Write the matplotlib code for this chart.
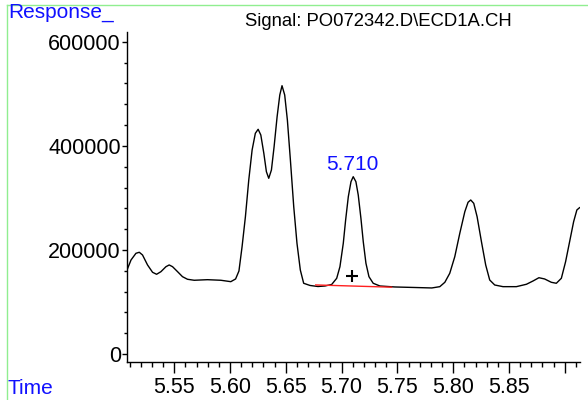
import matplotlib
matplotlib.use("Agg")
import matplotlib.pyplot as plt
from matplotlib.lines import Line2D
from matplotlib.ticker import MultipleLocator, FixedLocator

plt.rcParams['font.family'] = ['Liberation Sans', 'DejaVu Sans']

# trace (time in min, response)
time = [5.5077, 5.5113, 5.5157, 5.5187, 5.5216, 5.5261, 5.5306, 5.5342,
        5.5381, 5.5426, 5.5455, 5.5485, 5.5530, 5.5574, 5.5619, 5.5679,
        5.5798, 5.5918, 5.6007, 5.6050, 5.6080, 5.6108, 5.6138, 5.6168,
        5.6198, 5.6227, 5.6252, 5.6276, 5.6303, 5.6326, 5.6347, 5.6371,
        5.6395, 5.6422, 5.6446, 5.6466, 5.6490, 5.6514, 5.6541, 5.6571,
        5.6600, 5.6630, 5.6660, 5.6717, 5.6788, 5.6851, 5.6911, 5.6956,
        5.6985, 5.7015, 5.7036, 5.7060, 5.7084, 5.7104, 5.7128, 5.7149,
        5.7173, 5.7194, 5.7218, 5.7245, 5.7283, 5.7343, 5.7477, 5.7656,
        5.7808, 5.7880, 5.7925, 5.7969, 5.8014, 5.8059, 5.8104, 5.8133,
        5.8157, 5.8184, 5.8214, 5.8253, 5.8291, 5.8327, 5.8372, 5.8446,
        5.8566, 5.8656, 5.8715, 5.8768, 5.8819, 5.8879, 5.8924, 5.8969,
        5.9007, 5.9043, 5.9079, 5.9108, 5.9132]
response = [161400, 180700, 193500, 195500, 190300, 171100, 157000, 153200,
            158200, 167800, 171100, 167800, 158200, 148600, 143600, 141700,
            142800, 141700, 139000, 144200, 159500, 206200, 263900, 334400,
            392100, 424200, 431900, 420900, 385700, 350400, 337700, 353600,
            398400, 456100, 497800, 515700, 497800, 449700, 372900, 283100,
            212800, 161400, 135900, 131700, 129700, 130700, 133600, 145500,
            167800, 212800, 257500, 302300, 331200, 340800, 331200, 305600,
            260800, 215800, 174300, 148600, 135900, 130700, 128800, 127800,
            126900, 129400, 137800, 155100, 187000, 232000, 273500, 291600,
            296000, 289600, 263900, 215800, 171100, 142200, 132600, 129400,
            129400, 134000, 140300, 146600, 144200, 137800, 135900, 145500,
            177400, 215800, 254300, 276800, 281200]

# integration baseline of the labelled peak
base_time = [5.6768, 5.7448]
base_resp = [132700, 128400]
peak_rt = 5.710
peak_label = "5.710"
peak_label_y = 346000
marker_pt = (5.709, 150000)

x_ticks = [5.55, 5.60, 5.65, 5.70, 5.75, 5.80, 5.85, 5.90]
x_labels = ["5.55", "5.60", "5.65", "5.70", "5.75", "5.80", "5.85", ""]
y_ticks = [0, 200000, 400000, 600000]

fig = plt.figure(figsize=(5.88, 4.0), dpi=100)
ax = fig.add_axes([0.216, 0.0958, 0.770, 0.8242])

ax.plot(time, response, color='black', lw=1.0)
ax.plot(base_time, base_resp, color='#ff2020', lw=1.0)
ax.plot([marker_pt[0]], [marker_pt[1]], marker='+', color='black',
        markersize=8, markeredgewidth=1.5)
ax.text(peak_rt, peak_label_y, peak_label, color='#1010ff', fontsize=15,
        ha='center', va='bottom')

ax.set_xlim(5.5077, 5.9134)
ax.set_ylim(-14800, 618900)

ax.xaxis.set_major_locator(FixedLocator(x_ticks))
ax.set_xticklabels(x_labels)
ax.xaxis.set_minor_locator(MultipleLocator(0.01))
ax.set_yticks(y_ticks)
ax.set_yticklabels([str(v) for v in y_ticks])
ax.yaxis.set_minor_locator(MultipleLocator(40000))

ax.tick_params(axis='x', which='major', length=8, width=1, labelsize=15.5, pad=3)
ax.tick_params(axis='x', which='minor', length=3.5, width=1)
ax.tick_params(axis='y', which='major', length=3.5, width=1, labelsize=15.5, pad=1)
ax.tick_params(axis='y', which='minor', length=2.5, width=1)

for s in ['top', 'right']:
    ax.spines[s].set_visible(False)
for s in ['left', 'bottom']:
    ax.spines[s].set_linewidth(1.0)

fig.text(378 / 588, 1 - 22 / 400, "Signal: PO072342.D\\ECD1A.CH", fontsize=13.3,
         ha='center', va='center')
fig.text(8 / 588, 1 - 13 / 400, "Response_", color='#1010ff', fontsize=15,
         ha='left', va='center')
fig.text(8 / 588, 1 - 388 / 400, "Time", color='#1010ff', fontsize=15,
         ha='left', va='center')

# light green frame around the plot window
fig.add_artist(Line2D([7 / 588, 7 / 588], [0, 1 - 5 / 400], color='#90ee90', lw=1))
fig.add_artist(Line2D([7 / 588, 1], [1 - 5 / 400, 1 - 5 / 400], color='#90ee90', lw=1))

fig.savefig("out.png", dpi=100)
